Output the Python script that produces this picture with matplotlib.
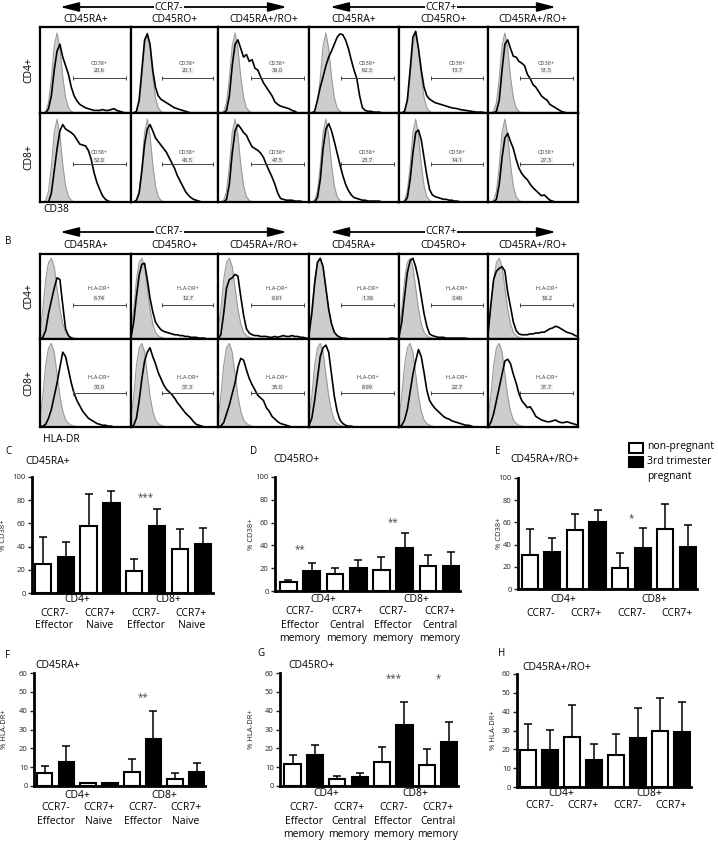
import matplotlib

matplotlib.use("Agg")

import numpy as np
import matplotlib.pyplot as plt
from matplotlib.patches import Rectangle, FancyArrowPatch
from matplotlib.transforms import blended_transform_factory

plt.rcParams["font.family"] = ["Open Sans", "DejaVu Sans"]

W, H = 718, 843

# ── histogram data (33 bins across each panel, normalised to mode) ─────────
HIST_X = np.linspace(0, 1, 33)

GRAY_A = [0, 0, .02, .12, .40, .78, .93, .75, .42, .18, .06, .02, 0, 0, 0, 0, 0,
          0, 0, 0, 0, 0, 0, 0, 0, 0, 0, 0, 0, 0, 0, 0, 0]
GRAY_B = [.10, .35, .70, .90, .95, .85, .60, .35, .18, .08, .04, .02, .01, 0, 0, 0, 0,
          0, 0, 0, 0, 0, 0, 0, 0, 0, 0, 0, 0, 0, 0, 0, 0]

# CD38, CD4+ row
A11 = [0, 0, 0, .05, .2, .5, .72, .8, .65, .55, .45, .3, .2, .14, .1, .08, .06,
       .05, .04, .03, .03, .03, .04, .03, .03, .04, .05, .03, .02, .01, 0, 0, 0]
A12 = [0, 0, .02, .15, .5, .85, .92, .8, .5, .3, .2, .16, .14, .12, .1, .08, .06,
       .05, .04, .03, .02, .01, 0, 0, 0, 0, 0, 0, 0, 0, 0, 0, 0]
A13 = [0, 0, 0, .03, .2, .55, .8, .85, .75, .65, .68, .6, .62, .52, .5, .42, .35,
       .3, .25, .2, .13, .1, .08, .07, .06, .05, .03, .02, 0, 0, 0, 0, 0]
A14 = [0, 0, .02, .15, .3, .42, .55, .65, .72, .8, .88, .92, .91, .85, .75, .62, .5,
       .4, .2, .06, .03, .02, .02, .01, .01, .01, 0, 0, 0, 0, 0, 0, 0]
A15 = [0, 0, .02, .15, .5, .88, .95, .75, .5, .3, .2, .16, .14, .12, .11, .1, .09,
       .08, .07, .06, .055, .05, .04, .035, .03, .025, .02, .015, .01, .01, .01, 0, 0]
A16 = [0, 0, 0, .02, .15, .5, .8, .85, .75, .66, .65, .6, .58, .55, .45, .4, .33,
       .3, .25, .2, .17, .15, .1, .08, .06, .04, .02, .01, 0, 0, 0, 0, 0]
# CD38, CD8+ row
A21 = [0, 0, 0, 0, .1, .35, .6, .8, .87, .82, .8, .78, .75, .7, .65, .64, .63,
       .58, .48, .33, .22, .14, .07, .03, .01, 0, 0, 0, 0, 0, 0, 0, 0]
A22 = [0, 0, .02, .1, .35, .65, .82, .87, .8, .72, .68, .64, .6, .56, .5, .44, .38,
       .3, .24, .18, .12, .08, .05, .03, .02, .01, 0, 0, 0, 0, 0, 0, 0]
A23 = [0, 0, 0, .03, .2, .55, .8, .87, .83, .78, .75, .68, .62, .6, .58, .55, .5,
       .42, .35, .28, .2, .1, .04, .03, .02, .02, .02, .01, .01, .01, 0, 0, 0]
A24 = [0, 0, 0, .05, .25, .6, .82, .88, .8, .68, .55, .42, .3, .2, .13, .08, .05,
       .04, .03, .02, .02, .01, .01, .01, .01, .01, 0, 0, 0, 0, 0, 0, 0]
A25 = [0, 0, 0, .05, .25, .55, .78, .81, .7, .5, .3, .14, .08, .06, .05, .04, .03,
       .03, .02, .02, .01, .01, 0, 0, 0, 0, 0, 0, 0, 0, 0, 0, 0]
A26 = [0, 0, 0, .03, .2, .5, .72, .77, .68, .6, .48, .38, .32, .28, .25, .2, .16,
       .13, .1, .07, .08, .05, .02, .01, 0, 0, 0, 0, 0, 0, 0, 0, 0]

# HLA-DR, CD4+ row
B11 = [0, .02, .1, .3, .45, .6, .72, .7, .4, .12, .04, .01, 0, 0, 0, 0, 0,
       0, 0, 0, 0, 0, 0, 0, 0, 0, 0, 0, 0, 0, 0, 0, 0]
B12 = [.02, .2, .5, .75, .88, .89, .7, .48, .32, .2, .15, .11, .09, .08, .07, .06, .05,
       .05, .04, .04, .03, .03, .02, .02, .02, .01, .01, .01, 0, 0, 0, 0, 0]
B13 = [0, .05, .3, .6, .7, .72, .76, .74, .5, .28, .12, .07, .05, .04, .04, .03, .03,
       .03, .02, .02, .03, .02, .03, .04, .03, .03, .04, .03, .03, .02, .02, .01, 0]
B14 = [.05, .3, .65, .9, .95, .85, .6, .35, .18, .08, .04, .02, .01, .01, 0, 0, 0,
       0, 0, 0, 0, 0, 0, 0, 0, 0, 0, 0, 0, .01, .01, 0, 0]
B15 = [.03, .2, .5, .78, .92, .95, .85, .7, .5, .3, .15, .06, .04, .03, .02, .02, .02,
       .01, .01, .01, .01, .01, .01, .01, .01, 0, 0, 0, 0, 0, 0, 0, 0]
B16 = [.05, .4, .7, .8, .83, .85, .8, .55, .38, .2, .1, .06, .05, .05, .05, .06, .06,
       .07, .07, .08, .08, .1, .12, .13, .15, .14, .12, .1, .08, .07, .06, .04, .03]
# HLA-DR, CD8+ row
B21 = [0, .01, .03, .1, .2, .35, .5, .68, .85, .8, .65, .5, .38, .3, .24, .18, .14,
       .1, .08, .06, .04, .03, .02, .02, .01, .01, 0, 0, 0, 0, 0, 0, 0]
B22 = [0, .02, .1, .3, .55, .75, .85, .9, .8, .72, .62, .55, .48, .43, .4, .37, .33,
       .28, .24, .2, .16, .13, .1, .06, .03, .02, .01, 0, 0, 0, 0, 0, 0]
B23 = [0, .01, .05, .15, .25, .38, .5, .68, .78, .76, .65, .55, .48, .42, .36, .33, .3,
       .22, .18, .12, .09, .06, .04, .03, .02, .01, 0, 0, 0, 0, 0, 0, 0]
B24 = [.02, .1, .3, .55, .8, .9, .93, .85, .6, .35, .18, .08, .04, .02, .01, .01, 0,
       0, 0, 0, 0, 0, 0, 0, 0, 0, 0, 0, 0, 0, 0, 0, 0]
B25 = [0, .02, .08, .2, .4, .6, .75, .88, .8, .62, .42, .3, .25, .21, .18, .15, .12,
       .1, .09, .07, .06, .05, .04, .03, .02, .02, .01, 0, 0, 0, 0, 0, 0]
B26 = [0, .05, .15, .3, .45, .6, .75, .77, .72, .6, .5, .38, .3, .26, .22, .23, .18,
       .12, .1, .08, .07, .06, .06, .07, .08, .06, .05, .05, .06, .05, .04, .03, .02]

A_VALUES = [["20.6", "20.1", "39.0", "62.3", "13.7", "51.5"],
            ["52.0", "45.5", "47.5", "23.7", "14.1", "27.3"]]
B_VALUES = [["6.74", "12.7", "8.91", "1.38", "3.46", "18.2"],
            ["30.9", "37.3", "35.0", "8.99", "22.7", "31.7"]]
SUBSETS = ["CD45RA+", "CD45RO+", "CD45RA+/RO+", "CD45RA+", "CD45RO+", "CD45RA+/RO+"]

# ── bar chart data: [CD4 CCR7-, CD4 CCR7+, CD8 CCR7-, CD8 CCR7+] ──────────
C_NP, C_NP_ERR = [25, 58, 19, 38], [23, 27, 10, 17]
C_P, C_P_ERR = [31, 78, 58, 42], [13, 10, 14, 14]
D_NP, D_NP_ERR = [8, 15, 18, 22], [2, 5, 12, 10]
D_P, D_P_ERR = [17.5, 20.5, 38, 22], [7.5, 6.5, 12.5, 12]
E_NP, E_NP_ERR = [31, 53.5, 19, 54], [23.5, 14, 13, 23]
E_P, E_P_ERR = [33.5, 60, 36.5, 37.4], [12, 11, 18.5, 20]
F_NP, F_NP_ERR = [6.8, 1.8, 7.3, 3.6], [3.6, 0, 7, 3.2]
F_P, F_P_ERR = [13, 1.6, 24.8, 7.3], [8, 0, 15.2, 4.8]
G_NP, G_NP_ERR = [11.6, 3.9, 12.5, 11], [4.8, 1.2, 8.3, 8.6]
G_P, G_P_ERR = [16.4, 5, 32.4, 23.5], [5.6, 1.9, 12.4, 10.3]
H_NP, H_NP_ERR = [19.5, 26.6, 17, 29.8], [14.2, 16.9, 10.9, 17.4]
H_P, H_P_ERR = [19.5, 14.6, 26, 29], [11, 8.4, 15.7, 16.3]

# significance marks: (pair index, y value, text)
C_STARS = [(2, 85.5, "***")]
D_STARS = [(0, 39, "**"), (2, 63, "**")]
E_STARS = [(2, 66.5, "*")]
F_STARS = [(2, 48.7, "**")]
G_STARS = [(2, 59, "***"), (3, 59, "*")]
H_STARS = []

GRAY_FILL = "#cdcdcd"
GRAY_EDGE = "#9a9a9a"
COL_EDGES = [40, 131, 218, 309, 399, 488, 578]

fig = plt.figure(figsize=(W / 100, H / 100), dpi=100)
ov = fig.add_axes([0, 0, 1, 1])
ov.set_xlim(0, W)
ov.set_ylim(H, 0)
ov.axis("off")


def rect(x0, y0, x1, y1):
    return [x0 / W, 1 - y1 / H, (x1 - x0) / W, (y1 - y0) / H]


def arrow_header(y, x0, x1, label, xt):
    ov.add_patch(FancyArrowPatch((x0, y), (x1, y),
                                 arrowstyle="<|-|>,head_length=1.4,head_width=0.35",
                                 mutation_scale=8, lw=1.3, color="black", shrinkA=0, shrinkB=0))
    ov.text(xt, y, label, ha="center", va="center", fontsize=7.5,
            bbox=dict(facecolor="white", edgecolor="none", pad=0.6))


def hist_block(rows, gray, curves, values, marker, gates, header_y, arrow_y):
    arrow_header(arrow_y, 60, 287, "CCR7-", 169)
    arrow_header(arrow_y, 330, 556, "CCR7+", 441)
    for c in range(6):
        ov.text((COL_EDGES[c] + COL_EDGES[c + 1]) / 2, header_y, SUBSETS[c],
                ha="center", va="center", fontsize=7.5)
    for r, lab in enumerate(["CD4+", "CD8+"]):
        ov.text(29, (rows[r] + rows[r + 1]) / 2, lab, rotation=90, ha="center",
                va="center", fontsize=7.5)
        gy, ly, vy = gates[r]
        for c in range(6):
            ax = fig.add_axes(rect(COL_EDGES[c], rows[r], COL_EDGES[c + 1], rows[r + 1]))
            ax.fill_between(HIST_X, gray, color=GRAY_FILL, lw=0, zorder=1)
            ax.plot(HIST_X, gray, color=GRAY_EDGE, lw=0.8, zorder=2)
            ax.plot(HIST_X, curves[r][c], color="black", lw=1.2, zorder=3)
            ax.plot([0.36, 0.94], [gy, gy], color="#444444", lw=0.7,
                    marker="|", ms=3.5, mew=0.7, zorder=4)
            ax.text(0.65, ly, marker, ha="center", va="center", fontsize=4, color="#333333")
            ax.text(0.65, vy, values[r][c], ha="center", va="center", fontsize=4,
                    color="#333333",
                    bbox=dict(facecolor="#efefef", edgecolor="none", pad=0.4))
            ax.set_xlim(0, 1)
            ax.set_ylim(0, 1)
            ax.set_xticks([])
            ax.set_yticks([])
            for s in ax.spines.values():
                s.set_linewidth(1.6)


def bar_panel(box, xlim, ymax, ystep, ylabel, ylabel_x, npv, npe, pv, pe, stars,
              label_rows, sub_names):
    xl, yt, xr, yb = box
    ax = fig.add_axes(rect(xl, yt, xr, yb))
    ax.patch.set_visible(False)
    xw = np.arange(4) * 2
    xb = xw + 1
    ax.bar(xw, npv, width=0.72, color="white", edgecolor="black", linewidth=1.5, zorder=3)
    ax.bar(xb, pv, width=0.72, color="black", edgecolor="black", linewidth=1.5, zorder=3)
    for xs, vals, errs in ((xw, npv, npe), (xb, pv, pe)):
        keep = [i for i, e in enumerate(errs) if e > 0]
        ax.errorbar(xs[keep], np.array(vals)[keep],
                    yerr=[np.zeros(len(keep)), np.array(errs)[keep]],
                    fmt="none", ecolor="black", elinewidth=1.1, capsize=3,
                    capthick=1.1, zorder=2)
    for k, yv, s in stars:
        ax.annotate(s, (2 * k + 0.5, yv), xytext=(0, -2.5), textcoords="offset points",
                    ha="center", va="center", fontsize=7, color="#444444")
    ax.set_xlim(*xlim)
    ax.set_ylim(0, ymax)
    ax.set_xticks([])
    ax.set_yticks(range(0, ymax + 1, ystep))
    ax.tick_params(axis="y", direction="out", length=3, width=1, labelsize=5.5,
                   pad=1.5, colors="#222222")
    for side in ("top", "right"):
        ax.spines[side].set_visible(False)
    for side in ("left", "bottom"):
        ax.spines[side].set_linewidth(2)
    ax.set_ylabel(ylabel, fontsize=5.5, color="#222222")
    ax.yaxis.set_label_coords((ylabel_x - xl) / (xr - xl), 0.5)

    trans = blended_transform_factory(ax.transData, ov.transData)
    gy = label_rows[0]
    ax.text(1.5, gy, "CD4+", transform=trans, ha="center", va="center", fontsize=7.5)
    ax.text(5.5, gy, "CD8+", transform=trans, ha="center", va="center", fontsize=7.5)
    for names, yy in zip(sub_names, label_rows[1:]):
        for k in range(4):
            ax.text(2 * k + 0.5, yy, names[k % 2], transform=trans, ha="center",
                    va="center", fontsize=7.5)


# ── A: CD38 histograms ─────────────────────────────────────────────────────
hist_block([27, 113, 202], GRAY_A,
           [[A11, A12, A13, A14, A15, A16], [A21, A22, A23, A24, A25, A26]],
           A_VALUES, "CD38+", [(0.41, 0.58, 0.49), (0.43, 0.56, 0.47)], 20, 7)
ov.text(43, 210, "CD38", ha="left", va="center", fontsize=7.5)

# ── B: HLA-DR histograms ───────────────────────────────────────────────────
ov.text(5, 242, "B", ha="left", va="center", fontsize=7)
hist_block([254, 339, 427], GRAY_B,
           [[B11, B12, B13, B14, B15, B16], [B21, B22, B23, B24, B25, B26]],
           B_VALUES, "HLA-DR+", [(0.40, 0.59, 0.48), (0.39, 0.56, 0.45)], 245, 232)
ov.text(43, 440, "HLA-DR", ha="left", va="center", fontsize=7.5)

# ── C–H: bar charts ────────────────────────────────────────────────────────
RA_NAMES = [("CCR7-", "CCR7+"), ("Effector", "Naive")]
RO_NAMES = [("CCR7-", "CCR7+"), ("Effector", "Central"), ("memory", "memory")]
RARO_NAMES = [("CCR7-", "CCR7+")]

for letter, x, y in [("C", 5, 452), ("D", 250, 452), ("E", 495, 451),
                     ("F", 5, 655), ("G", 257, 653), ("H", 498, 653)]:
    ov.text(x, y, letter, ha="left", va="center", fontsize=7)
for title, x, y in [("CD45RA+", 25, 461), ("CD45RO+", 273, 460), ("CD45RA+/RO+", 510, 460),
                    ("CD45RA+", 35, 665), ("CD45RO+", 288, 665), ("CD45RA+/RO+", 522, 667)]:
    ov.text(x, y, title, ha="left", va="center", fontsize=7.5)

bar_panel((32, 477, 213, 593), (-0.48, 7.45), 100, 20, "% CD38+", 7,
          C_NP, C_NP_ERR, C_P, C_P_ERR, C_STARS, [600, 613, 626], RA_NAMES)
bar_panel((275, 477, 460, 591), (-0.58, 7.38), 100, 20, "% CD38+", 255,
          D_NP, D_NP_ERR, D_P, D_P_ERR, D_STARS, [600, 612, 625, 639], RO_NAMES)
bar_panel((518, 478, 697, 589), (-0.52, 7.4), 100, 20, "% CD38+", 503,
          E_NP, E_NP_ERR, E_P, E_P_ERR, E_STARS, [600, 613], RARO_NAMES)
bar_panel((34, 673, 205, 786), (-0.49, 7.37), 60, 10, "% HLA-DR+", 8,
          F_NP, F_NP_ERR, F_P, F_P_ERR, F_STARS, [795, 807, 821], RA_NAMES)
bar_panel((280, 673, 458, 786), (-0.56, 7.39), 60, 10, "% HLA-DR+", 255,
          G_NP, G_NP_ERR, G_P, G_P_ERR, G_STARS, [794, 807, 821, 835], RO_NAMES)
bar_panel((517, 674, 691, 787), (-0.51, 7.39), 60, 10, "% HLA-DR+", 497,
          H_NP, H_NP_ERR, H_P, H_P_ERR, H_STARS, [793, 805], RARO_NAMES)

# legend
ov.add_patch(Rectangle((629, 443), 14, 10, facecolor="white", edgecolor="black", lw=1.5))
ov.add_patch(Rectangle((629, 457), 14, 10, facecolor="black", edgecolor="black", lw=1.5))
ov.text(647, 447, "non-pregnant", ha="left", va="center", fontsize=7.5)
ov.text(647, 462, "3rd trimester", ha="left", va="center", fontsize=7.5)
ov.text(647, 476, "pregnant", ha="left", va="center", fontsize=7.5)

fig.savefig("out.png", dpi=100, facecolor="white")
